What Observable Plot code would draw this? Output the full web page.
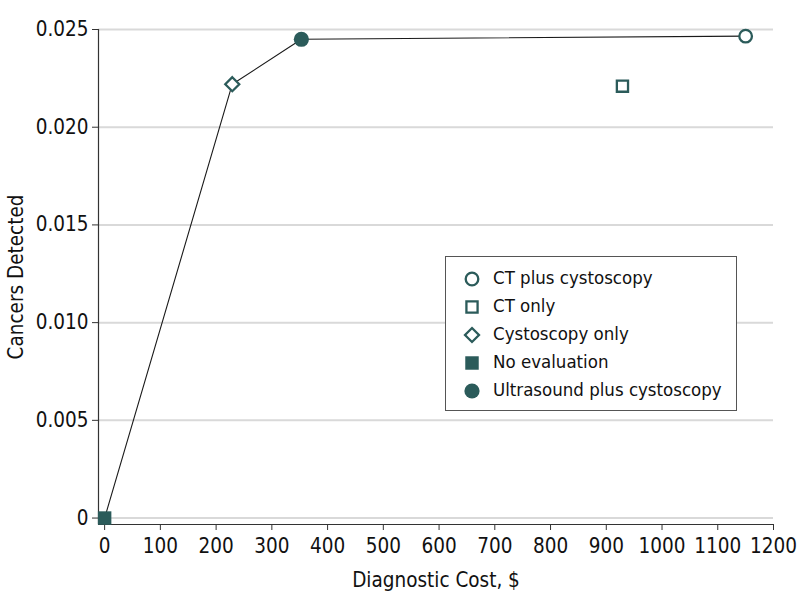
<!DOCTYPE html>
<html><head><meta charset="utf-8">
<script src="https://cdn.jsdelivr.net/npm/d3@7"></script>
<script src="https://cdn.jsdelivr.net/npm/@observablehq/plot@0.6"></script>
<style>
body{margin:0;background:#fff;font-family:"DejaVu Sans Condensed","DejaVu Sans",sans-serif;}
#wrap{position:relative;width:798px;height:609px;}
#wrap svg text{font-size:20.5px;}
#legend{position:absolute;left:445px;top:256px;width:290px;height:153px;border:1px solid #555;background:#fff;box-sizing:content-box;}
.row{position:absolute;left:0;height:28px;display:flex;align-items:center;font-size:18.5px;color:#111;white-space:nowrap;}
.row svg{position:absolute;left:12px;top:0;}
.row span{position:absolute;left:47px;line-height:28px;top:-1px;}
</style></head><body><div id="wrap"></div>
<script>
const strategies = ["No evaluation", "Cystoscopy only", "Ultrasound plus cystoscopy", "CT only", "CT plus cystoscopy"];
const costs = [0, 229, 353, 929, 1150];
const detected = [0, 0.0222, 0.0245, 0.0221, 0.02466];
const frontier = ["No evaluation", "Cystoscopy only", "Ultrasound plus cystoscopy", "CT plus cystoscopy"];
const legendOrder = ["CT plus cystoscopy", "CT only", "Cystoscopy only", "No evaluation", "Ultrasound plus cystoscopy"];
const symbolNames = {"No evaluation": "square", "Cystoscopy only": "diamond2", "Ultrasound plus cystoscopy": "circle", "CT only": "square", "CT plus cystoscopy": "circle"};
const filledSet = ["No evaluation", "Ultrasound plus cystoscopy"];
const xTicks = d3.range(0, 1201, 100);
const yTicks = [0, 0.005, 0.010, 0.015, 0.020, 0.025];
const xDomain = [-11, 1200];
const yDomain = [-0.00033, 0.025];

const teal = "#2b5b5a";
const data = strategies.map((s, i) => ({strategy: s, cost: costs[i], detected: detected[i], filled: filledSet.includes(s)}));
const lineData = frontier.map(s => data.find(d => d.strategy === s));
const fontFamily = '"DejaVu Sans Condensed","DejaVu Sans",sans-serif';

const chart = Plot.plot({
  width: 798, height: 609,
  marginLeft: 98, marginRight: 25, marginTop: 29, marginBottom: 85,
  style: {fontFamily, fontSize: "20.5px", color: "#111", background: "#fff", overflow: "visible"},
  x: {domain: xDomain, ticks: xTicks, tickFormat: d3.format("d"), label: "Diagnostic Cost, $", labelAnchor: "center", labelOffset: 62, tickSize: 6, tickPadding: 8, labelArrow: false},
  y: {domain: yDomain, ticks: yTicks, tickFormat: d => d === 0 ? "0" : d3.format(".3f")(d), label: "Cancers Detected", labelAnchor: "center", labelOffset: 90, tickSize: 6, tickPadding: 4, labelArrow: false},
  symbol: {domain: strategies, range: strategies.map(s => symbolNames[s])},
  marks: [
    Plot.gridY(yTicks, {stroke: "#d9d9d9", strokeOpacity: 1, strokeWidth: 2}),
    Plot.ruleX([xDomain[0]], {stroke: "#333", strokeWidth: 1.2}),
    Plot.ruleY([yDomain[0]], {stroke: "#333", strokeWidth: 1.2}),
    Plot.line(lineData, {x: "cost", y: "detected", stroke: "#1a1a1a", strokeWidth: 1.1}),
    Plot.dot(data.filter(d => !d.filled), {x: "cost", y: "detected", symbol: "strategy", r: 6.3, stroke: teal, strokeWidth: 2.3, fill: "white"}),
    Plot.dot(data.filter(d => d.filled), {x: "cost", y: "detected", symbol: "strategy", r: 7.6, fill: teal, stroke: "none"})
  ]
});
chart.querySelectorAll('[aria-label="x-axis tick"], [aria-label="y-axis tick"]').forEach(el => el.setAttribute("stroke", "#333"));
const wrap = document.getElementById("wrap");
wrap.appendChild(chart);

// Legend
const legend = document.createElement("div");
legend.id = "legend";
legendOrder.forEach((s, i) => {
  const row = document.createElement("div");
  row.className = "row";
  row.style.top = (8 + i * 28) + "px";
  const filled = filledSet.includes(s);
  const r = filled ? 7.6 : 6.3;
  const symMap = {circle: d3.symbolCircle, square: d3.symbolSquare, diamond2: d3.symbolDiamond2};
  const path = d3.symbol(symMap[symbolNames[s]], Math.PI * r * r)();
  const svg = d3.create("svg").attr("width", 28).attr("height", 28);
  svg.append("path").attr("transform", "translate(14,14)").attr("d", path)
    .attr("fill", filled ? teal : "white").attr("stroke", filled ? "none" : teal).attr("stroke-width", 2.3);
  row.appendChild(svg.node());
  const span = document.createElement("span");
  span.textContent = s;
  row.appendChild(span);
  legend.appendChild(row);
});
wrap.appendChild(legend);
</script></body></html>
